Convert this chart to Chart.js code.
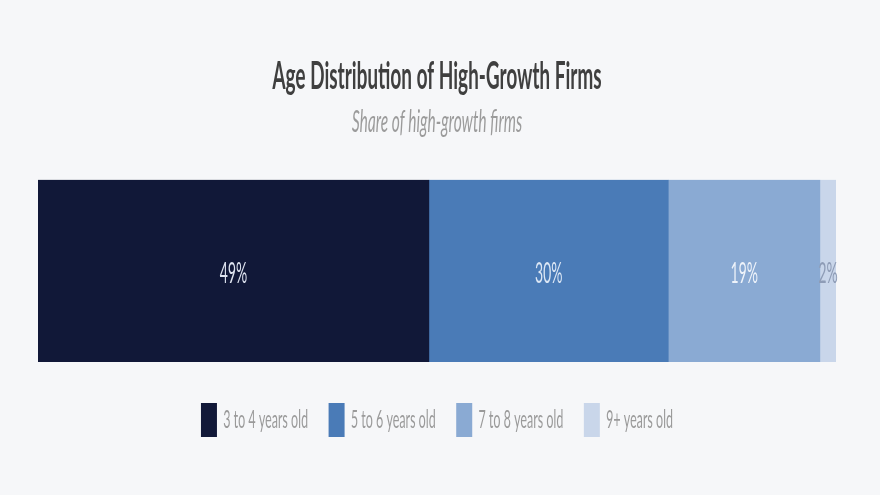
<!DOCTYPE html>
<html>
<head>
<meta charset="utf-8">
<script src="https://cdn.jsdelivr.net/npm/chart.js@4.4.1/dist/chart.umd.min.js"></script>
<style>
  html, body { margin: 0; padding: 0; background: #f6f7f9; overflow: hidden; }
  /* the reference text is narrow, so the chart is drawn wide and squeezed */
  #wrap { width: 1760px; height: 495px; transform: scaleX(0.5); transform-origin: 0 0; }
</style>
</head>
<body>
<div id="wrap"><canvas id="agechart"></canvas></div>
<script>
// data
var ageGroups = ["3 to 4 years old", "5 to 6 years old", "7 to 8 years old", "9+ years old"];
var shares = [49, 30, 19, 2];
var segmentColors = ["#111838", "#4a7bb7", "#8aaad3", "#c9d6ea"];
var labelColors = ["#dfe4f0", "#dce7f5", "#eef3fa", "#8e9cb6"];

document.addEventListener("DOMContentLoaded", function() {

    // labels inside each segment
    var barLabels = {
        id: "barLabels",
        afterDatasetsDraw: function(chart) {
            var ctx = chart.ctx;
            chart.data.datasets.forEach(function(ds, i) {
                var meta = chart.getDatasetMeta(i);
                meta.data.forEach(function(bar, j) {
                    var p = bar.getCenterPoint();
                    ctx.save();
                    ctx.font = "28px Lato";
                    ctx.fillStyle = labelColors[i];
                    ctx.textAlign = "center";
                    ctx.textBaseline = "middle";
                    ctx.fillText(ds.data[j] + "%", p.x, p.y + 3);
                    ctx.restore();
                });
            });
        }
    };

    var datasets = ageGroups.map(function(name, i) {
        return {
            label: name,
            data: [shares[i]],
            backgroundColor: segmentColors[i],
            borderWidth: 0,
            barPercentage: 1,
            categoryPercentage: 1
        };
    });

    var ctx = document.getElementById("agechart").getContext("2d");
    new Chart(ctx, {
        type: "bar",
        data: {
            labels: [""],
            datasets: datasets
        },
        options: {
            indexAxis: "y",
            responsive: true,
            maintainAspectRatio: false,
            animation: false,
            layout: {
                padding: { left: 76, right: 88, top: 0, bottom: 48 }
            },
            scales: {
                x: { stacked: true, min: 0, max: 100, display: false },
                y: { stacked: true, display: false }
            },
            plugins: {
                title: {
                    display: true,
                    text: "Age Distribution of High-Growth Firms",
                    color: "#3f3f3f",
                    font: { family: "Lato", size: 38, weight: "bold" },
                    padding: { top: 54, bottom: 4 }
                },
                subtitle: {
                    display: true,
                    text: "Share of high-growth firms",
                    color: "#9b9b9b",
                    font: { family: "Lato", size: 31, style: "italic" },
                    padding: { top: 0, bottom: 39 }
                },
                legend: {
                    position: "bottom",
                    onClick: null,
                    labels: {
                        boxWidth: 32,
                        boxHeight: 34,
                        padding: 41,
                        color: "#9a9a9a",
                        font: { family: "Lato", size: 25 }
                    }
                },
                tooltip: { enabled: false }
            }
        },
        plugins: [barLabels]
    });
});
</script>
</body>
</html>
